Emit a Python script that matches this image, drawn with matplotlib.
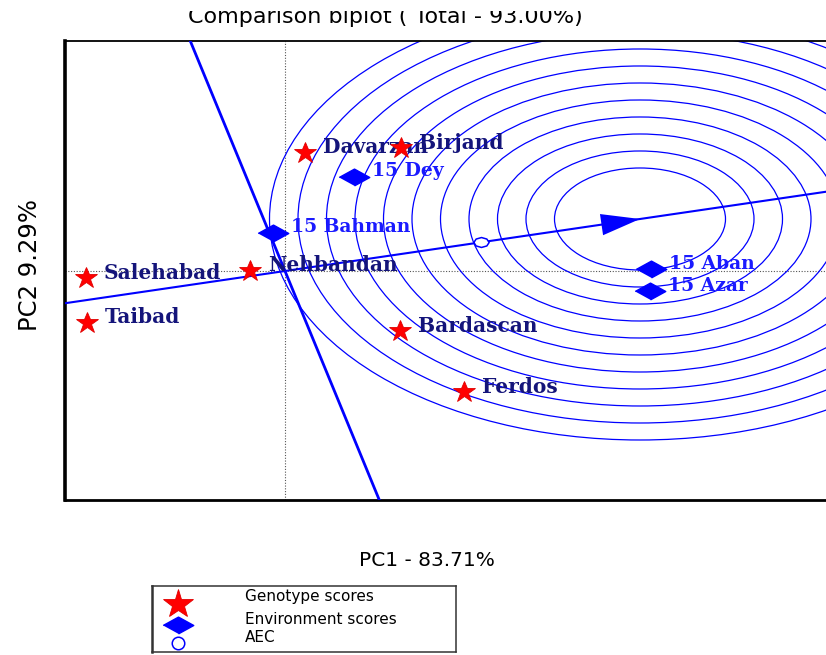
import matplotlib
matplotlib.use("Agg")
import matplotlib.pyplot as plt
from matplotlib.patches import Ellipse
from matplotlib.transforms import Bbox, TransformedBbox

# genotype (site) scores, PC1 / PC2
GENOTYPES = ["Davarzan", "Birjand", "Salehabad", "Nehbandan", "Taibad", "Bardascan", "Ferdos"]
GEN_PC1 = [0.20, 1.16, -1.99, -0.35, -1.98, 1.15, 1.79]
GEN_PC2 = [1.98, 2.06, -0.12, 0.00, -0.87, -1.01, -2.03]

# environment (sowing date) scores
ENVIRONMENTS = ["15 Dey", "15 Bahman", "15 Aban", "15 Azar"]
ENV_PC1 = [0.69, -0.12, 3.66, 3.65]
ENV_PC2 = [1.58, 0.64, 0.03, -0.34]

# average environment marker, ideal point and concentric circle radii
AEC_MARK = (1.96, 0.486)
IDEAL = (3.55, 0.872)
RADII = [0.855, 1.14, 1.425, 1.71, 1.995, 2.28, 2.565, 2.85, 3.135, 3.42, 3.705]

TITLE = "Comparison biplot ( Total - 93.00%)"
XLABEL = "PC1 - 83.71%"
YLABEL = "PC2 9.29%"
LEGEND_LABELS = ["Genotype scores", "Environment scores", "AEC"]

W, H = 826, 655
NAVY = "#14147a"
BLUE = "#0000ff"
DIAMOND = [(-1, 0), (0, 0.55), (1, 0), (0, -0.55)]


def px_axes(fig, x0, y0, x1, y1):
    return fig.add_axes([x0 / W, 1 - y1 / H, (x1 - x0) / W, (y1 - y0) / H])


def main() -> None:
    fig = plt.figure(figsize=(W / 100, H / 100), dpi=100)
    ax = px_axes(fig, 65, 41, 828, 500)
    xlim = (-2.20, 5.43)
    ylim = (-3.839, 3.856)
    ax.set_xlim(*xlim)
    ax.set_ylim(*ylim)
    ax.set_xticks([])
    ax.set_yticks([])
    ax.spines["left"].set_linewidth(2.6)
    ax.spines["bottom"].set_linewidth(2.0)
    ax.spines["top"].set_linewidth(1.3)

    # origin lines
    ax.axhline(0, color="#555555", lw=0.8, ls=(0, (1, 1.5)), zorder=1)
    ax.axvline(0, color="#555555", lw=0.8, ls=(0, (1, 1.5)), zorder=1)

    # concentric circles around the ideal point
    for r in RADII:
        ax.add_patch(Ellipse(IDEAL, 2 * r, 2 * r, fill=False, ec=BLUE, lw=0.9, zorder=2))

    # average environment axis and its perpendicular
    slope = IDEAL[1] / IDEAL[0]
    ax.plot(xlim, [xlim[0] * slope, xlim[1] * slope], color=BLUE, lw=1.5, zorder=3)
    ax.plot([-ylim[0] * slope, -ylim[1] * slope], ylim, color=BLUE, lw=2.0, zorder=3)
    ax.annotate("", xy=IDEAL, xytext=(IDEAL[0] - 0.45, IDEAL[1] - 0.45 * slope),
                arrowprops=dict(arrowstyle="-|>,head_length=2.0,head_width=0.55",
                                mutation_scale=14, color=BLUE, lw=0, shrinkA=0, shrinkB=0),
                zorder=4)
    ax.plot(*AEC_MARK, marker=[(-1, 0), (-0.7, 0.45), (0, 0.65), (0.7, 0.45), (1, 0),
                               (0.7, -0.45), (0, -0.65), (-0.7, -0.45), (-1, 0)],
            ms=11, mfc="white", mec=BLUE, mew=1.1, zorder=4)

    # labels, then markers on top
    for name, x, y in zip(GENOTYPES, GEN_PC1, GEN_PC2):
        ax.annotate(name, (x, y), xytext=(13, 4), textcoords="offset points", va="center",
                    family="DejaVu Serif", weight="bold", fontsize=14.5, color=NAVY, zorder=5)
    for name, x, y in zip(ENVIRONMENTS, ENV_PC1, ENV_PC2):
        ax.annotate(name, (x, y), xytext=(13, 4), textcoords="offset points", va="center",
                    family="DejaVu Serif", weight="bold", fontsize=13.5, color="#1a1aff", zorder=5)
    ax.plot(GEN_PC1, GEN_PC2, ls="none", marker="*", ms=16.5, mfc="#ff0000", mec="#e00000",
            mew=0.6, zorder=6)
    ax.plot(ENV_PC1, ENV_PC2, ls="none", marker=DIAMOND, ms=22, mfc=BLUE, mec=BLUE, zorder=6)

    # title (top of it cut off, like the source image)
    t = fig.text(385 / W, 1 - 23 / H, TITLE, ha="center", va="baseline", fontsize=16,
                 family="DejaVu Sans")
    t.set_clip_on(True)
    t.set_clip_box(TransformedBbox(Bbox.from_extents(0, 0, 1, 1 - 11 / H), fig.transFigure))
    fig.text(427 / W, 1 - 561 / H, XLABEL, ha="center", va="center", fontsize=14.5,
             family="DejaVu Sans")
    fig.text(30 / W, 1 - 265 / H, YLABEL, ha="center", va="center", rotation=90,
             fontsize=17.5, family="DejaVu Sans")

    # legend box
    lg = px_axes(fig, 152, 586, 456, 652)
    lg.set_xlim(152, 456)
    lg.set_ylim(652, 586)
    lg.set_xticks([])
    lg.set_yticks([])
    for s in lg.spines.values():
        s.set_linewidth(1.1)
        s.set_color("#333333")
    lg.spines["left"].set_linewidth(1.8)
    lg.plot(178, 604, marker="*", ms=22, mfc="#ff0000", mec="#e00000", mew=0.6)
    lg.plot(178, 625, marker=DIAMOND, ms=22, mfc=BLUE, mec=BLUE)
    lg.plot(178, 643, marker="o", ms=9, mfc="white", mec=BLUE, mew=1.1)
    for lab, y in zip(LEGEND_LABELS, [597, 619, 637]):
        lg.text(245, y, lab, va="center", fontsize=11, family="DejaVu Sans")

    fig.savefig("out.png", dpi=100)
    plt.close(fig)


if __name__ == "__main__":
    main()
